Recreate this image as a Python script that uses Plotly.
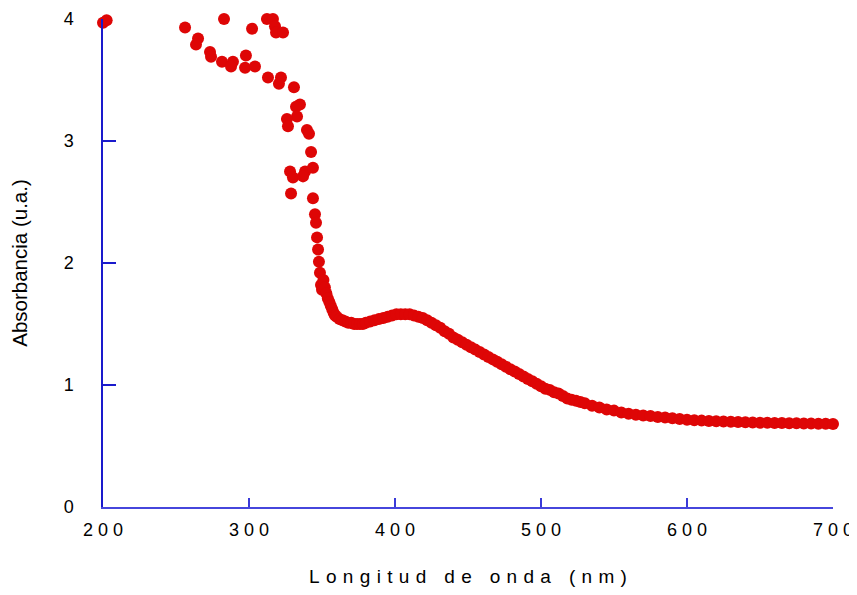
import plotly.graph_objects as go

# Scattered (noisy) region
noisy_x = [200.0, 202.5, 256.2, 282.9, 302.1, 312.3, 316.4, 317.8, 318.5, 323.3,
           265.1, 263.7, 273.3, 274.0, 281.5, 289.0, 287.7, 297.9, 297.3, 304.1,
           313.0, 321.9, 320.5, 330.8, 334.9, 332.2, 332.9, 326.0, 326.7, 339.7,
           341.1, 342.5, 328.1, 338.4, 343.8, 330.1, 337.0, 328.8, 343.8,
           345.2, 345.9, 346.6, 347.3, 347.9, 348.6, 349.3, 350.0]
noisy_y = [3.97, 3.99, 3.93, 4.00, 3.92, 4.00, 4.00, 3.94, 3.89, 3.89,
           3.84, 3.79, 3.73, 3.69, 3.65, 3.65, 3.61, 3.70, 3.60, 3.61,
           3.52, 3.52, 3.47, 3.44, 3.30, 3.28, 3.20, 3.18, 3.12, 3.09,
           3.06, 2.91, 2.75, 2.75, 2.78, 2.70, 2.71, 2.57, 2.53,
           2.40, 2.33, 2.21, 2.11, 2.01, 1.92, 1.82, 1.78]

# Smooth region
curve_x = [351, 352, 353, 354, 355, 356, 357, 358, 359, 360, 362, 364, 366, 368, 370,
           372, 374, 376, 378, 380, 383, 386, 389, 392, 395, 398, 401, 404, 407, 410,
           413, 416, 419, 422, 425, 428, 431, 434, 437, 440, 443, 446, 449, 452, 455,
           458, 461, 464, 467, 470, 473, 476, 479, 482, 485, 488, 491, 494, 497, 500,
           503, 506, 509, 512, 515, 518, 521, 524, 527, 530, 535, 540, 545, 550, 555,
           560, 565, 570, 575, 580, 585, 590, 595, 600, 605, 610, 615, 620, 625, 630,
           635, 640, 645, 650, 655, 660, 665, 670, 675, 680, 685, 690, 695, 700]
curve_y = [1.86, 1.80, 1.75, 1.71, 1.68, 1.65, 1.62, 1.59, 1.57, 1.56, 1.54, 1.53, 1.52, 1.51, 1.51,
           1.50, 1.50, 1.50, 1.50, 1.51, 1.52, 1.53, 1.54, 1.55, 1.56, 1.57, 1.58, 1.58, 1.58, 1.58,
           1.57, 1.56, 1.55, 1.53, 1.51, 1.49, 1.47, 1.44, 1.42, 1.39, 1.37, 1.35, 1.33, 1.31, 1.29,
           1.27, 1.25, 1.23, 1.21, 1.19, 1.17, 1.15, 1.13, 1.11, 1.09, 1.07, 1.05, 1.03, 1.01, 0.99,
           0.97, 0.96, 0.94, 0.93, 0.91, 0.89, 0.88, 0.87, 0.86, 0.85, 0.83, 0.815, 0.80, 0.79, 0.775,
           0.765, 0.757, 0.75, 0.745, 0.738, 0.733, 0.728, 0.722, 0.716, 0.712, 0.708, 0.705, 0.702, 0.70, 0.698,
           0.696, 0.694, 0.692, 0.691, 0.69, 0.689, 0.688, 0.687, 0.686, 0.685, 0.684, 0.683, 0.682, 0.681]

x_ticks = [200, 300, 400, 500, 600, 700]
x_ticktext = ["2 0 0", "3 0 0", "4 0 0", "5 0 0", "6 0 0", "7 0 0"]
y_ticks = [0, 1, 2, 3, 4]

sp = "\u2004"
x_title = (sp + " " + sp).join(sp.join(list(w)) for w in ["Longitud", "de", "onda", "(nm)"])
y_title = "Absorbancia (u.a.)"

red = "#de0606"
fig = go.Figure()
fig.add_trace(go.Scatter(x=noisy_x + curve_x, y=noisy_y + curve_y, mode="markers",
                         marker=dict(color=red, size=12, line=dict(width=0)),
                         cliponaxis=False, showlegend=False))

font = "Liberation Sans, Arial, sans-serif"
fig.update_layout(
    width=849, height=579,
    margin=dict(l=95, r=24, t=11, b=80),
    paper_bgcolor="white", plot_bgcolor="white",
    font=dict(family=font, color="black"),
    xaxis=dict(range=[199.999, 700.001], tickvals=x_ticks, ticktext=x_ticktext,
               ticks="inside", ticklen=9, tickcolor="#3a3ad8", tickwidth=1.5,
               showline=True, linecolor="#4646dc", linewidth=1.5,
               showgrid=False, zeroline=False, tickfont=dict(size=18),
               ticklabelstandoff=6, automargin=False, ticklabeloverflow="allow",
               title=dict(text=x_title, font=dict(size=19), standoff=32)),
    yaxis=dict(range=[0, 4.00001], tickvals=y_ticks,
               ticks="inside", ticklen=13, tickcolor="#1a1acc", tickwidth=1.5,
               showline=True, linecolor="#1a1acc", linewidth=1.5,
               showgrid=False, zeroline=False, tickfont=dict(size=18),
               ticklabelstandoff=24, automargin=False, ticklabeloverflow="allow",
               title=dict(text=y_title, font=dict(size=20.5), standoff=36)),
)
fig.write_html("out.html")
